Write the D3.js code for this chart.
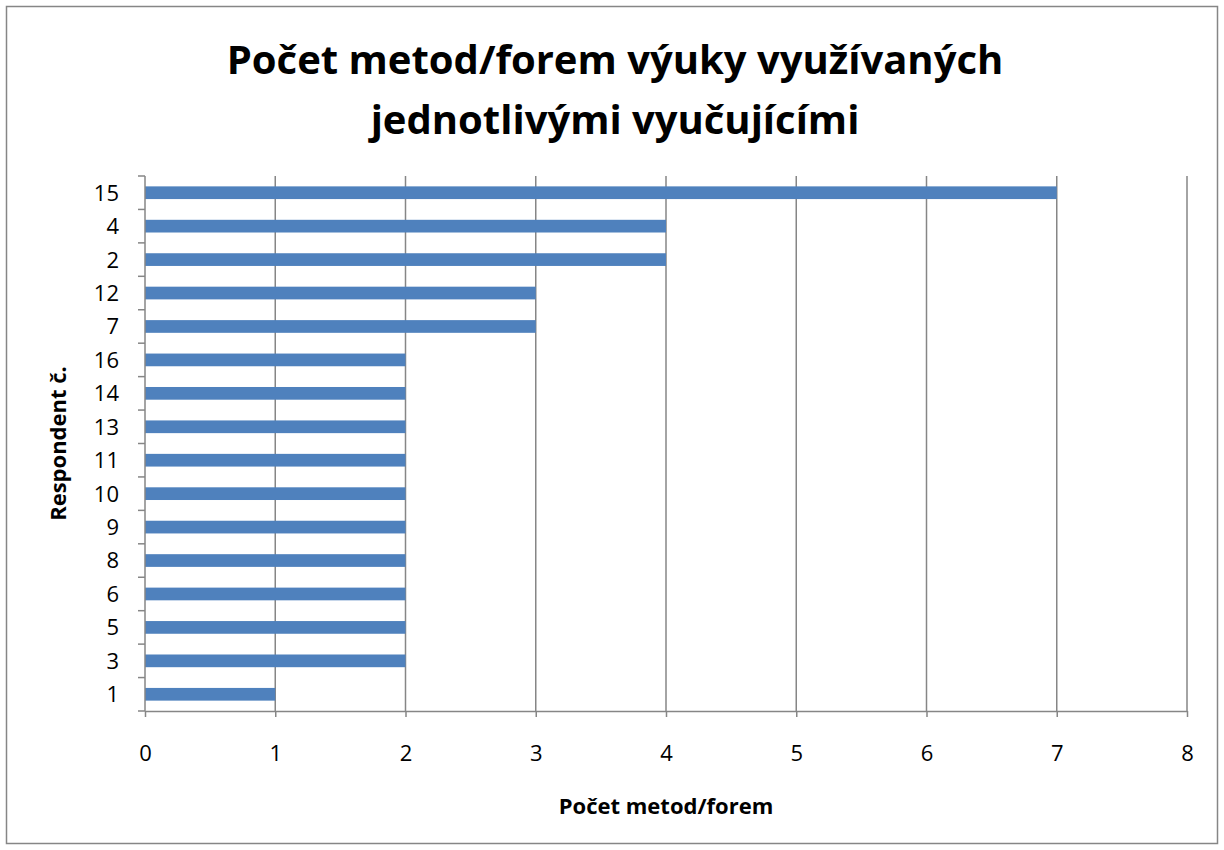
<!DOCTYPE html>
<html>
<head>
<meta charset="utf-8">
<script src="https://cdn.jsdelivr.net/npm/d3@7"></script>
<style>
  body { margin: 0; background: #fff; }
  text { font-family: "Open Sans", "Noto Sans", sans-serif; fill: #000; }
</style>
</head>
<body>
<div id="chart"></div>
<script>
// respondents, listed top to bottom as in the chart
const respondents = ["15", "4", "2", "12", "7", "16", "14", "13", "11", "10", "9", "8", "6", "5", "3", "1"];
const counts = [7, 4, 4, 3, 3, 2, 2, 2, 2, 2, 2, 2, 2, 2, 2, 1];
const xTicks = [0, 1, 2, 3, 4, 5, 6, 7, 8];
const titleLines = ["Počet metod/forem výuky využívaných", "jednotlivými vyučujícími"];
const xTitle = "Počet metod/forem";
const yTitle = "Respondent č.";

const data = respondents.map((r, i) => ({ name: r, value: counts[i] }));

const W = 1224, H = 850;
const margin = { top: 176, right: 37, bottom: 139, left: 145 };
const width = W - margin.left - margin.right;
const height = H - margin.top - margin.bottom;

const svg = d3.select("#chart").append("svg")
    .attr("width", W)
    .attr("height", H);

// outer chart border
svg.append("rect")
    .attr("x", 6.5).attr("y", 6.5)
    .attr("width", W - 13).attr("height", H - 13)
    .attr("fill", "#fff")
    .attr("stroke", "#868686")
    .attr("stroke-width", 1.5);

const g = svg.append("g")
    .attr("transform", "translate(" + margin.left + "," + margin.top + ")");

const xScale = d3.scaleLinear().domain([0, 8]).range([0, width]);
const yScale = d3.scaleBand().domain(respondents).range([0, height]).paddingInner(0.62).paddingOuter(0.31);

// vertical gridlines
g.selectAll(".grid")
    .data(xTicks.slice(1))
    .join("line")
    .attr("class", "grid")
    .attr("x1", d => xScale(d)).attr("x2", d => xScale(d))
    .attr("y1", 0).attr("y2", height)
    .attr("stroke", "#868686")
    .attr("stroke-width", 1.5);

// bars
g.selectAll(".bar")
    .data(data)
    .join("rect")
    .attr("class", "bar")
    .attr("x", 0)
    .attr("y", d => yScale(d.name))
    .attr("width", d => xScale(d.value))
    .attr("height", yScale.bandwidth())
    .attr("fill", "#4F81BD");

// x axis
const xAxis = g.append("g")
    .attr("transform", "translate(0," + height + ")")
    .call(d3.axisBottom(xScale).tickValues(xTicks).tickSize(6).tickPadding(28).tickSizeOuter(0));
xAxis.select(".domain").attr("stroke", "#868686").attr("stroke-width", 1.5);
xAxis.selectAll(".tick line").attr("stroke", "#868686").attr("stroke-width", 1.5);
xAxis.selectAll(".tick text").style("font-size", "22px").attr("fill", "#000");

// y axis: ticks sit on band boundaries
const step = yScale.step();
const yAxis = g.append("g");
yAxis.append("line")
    .attr("x1", 0).attr("x2", 0).attr("y1", 0).attr("y2", height)
    .attr("stroke", "#868686").attr("stroke-width", 1.5);
yAxis.selectAll(".ytick")
    .data(d3.range(respondents.length + 1))
    .join("line")
    .attr("class", "ytick")
    .attr("x1", -7).attr("x2", 0)
    .attr("y1", i => i * step).attr("y2", i => i * step)
    .attr("stroke", "#868686").attr("stroke-width", 1.5);
yAxis.selectAll(".ylabel")
    .data(respondents)
    .join("text")
    .attr("class", "ylabel")
    .attr("x", -26)
    .attr("y", d => yScale(d) + yScale.bandwidth() / 2)
    .attr("dy", "0.36em")
    .attr("text-anchor", "end")
    .style("font-size", "22px")
    .text(d => d);

// title
svg.append("text")
    .attr("x", 615)
    .attr("text-anchor", "middle")
    .style("font-size", "40px")
    .style("font-weight", "bold")
    .selectAll("tspan")
    .data(titleLines)
    .join("tspan")
    .attr("x", 615)
    .attr("y", (d, i) => 74 + i * 60)
    .text(d => d);

// axis titles
svg.append("text")
    .attr("x", margin.left + width / 2)
    .attr("y", 814)
    .attr("text-anchor", "middle")
    .style("font-size", "22px")
    .style("font-weight", "bold")
    .text(xTitle);

svg.append("text")
    .attr("transform", "translate(66," + (margin.top + height / 2) + ") rotate(-90)")
    .attr("text-anchor", "middle")
    .style("font-size", "22px")
    .style("font-weight", "bold")
    .text(yTitle);
</script>
</body>
</html>
